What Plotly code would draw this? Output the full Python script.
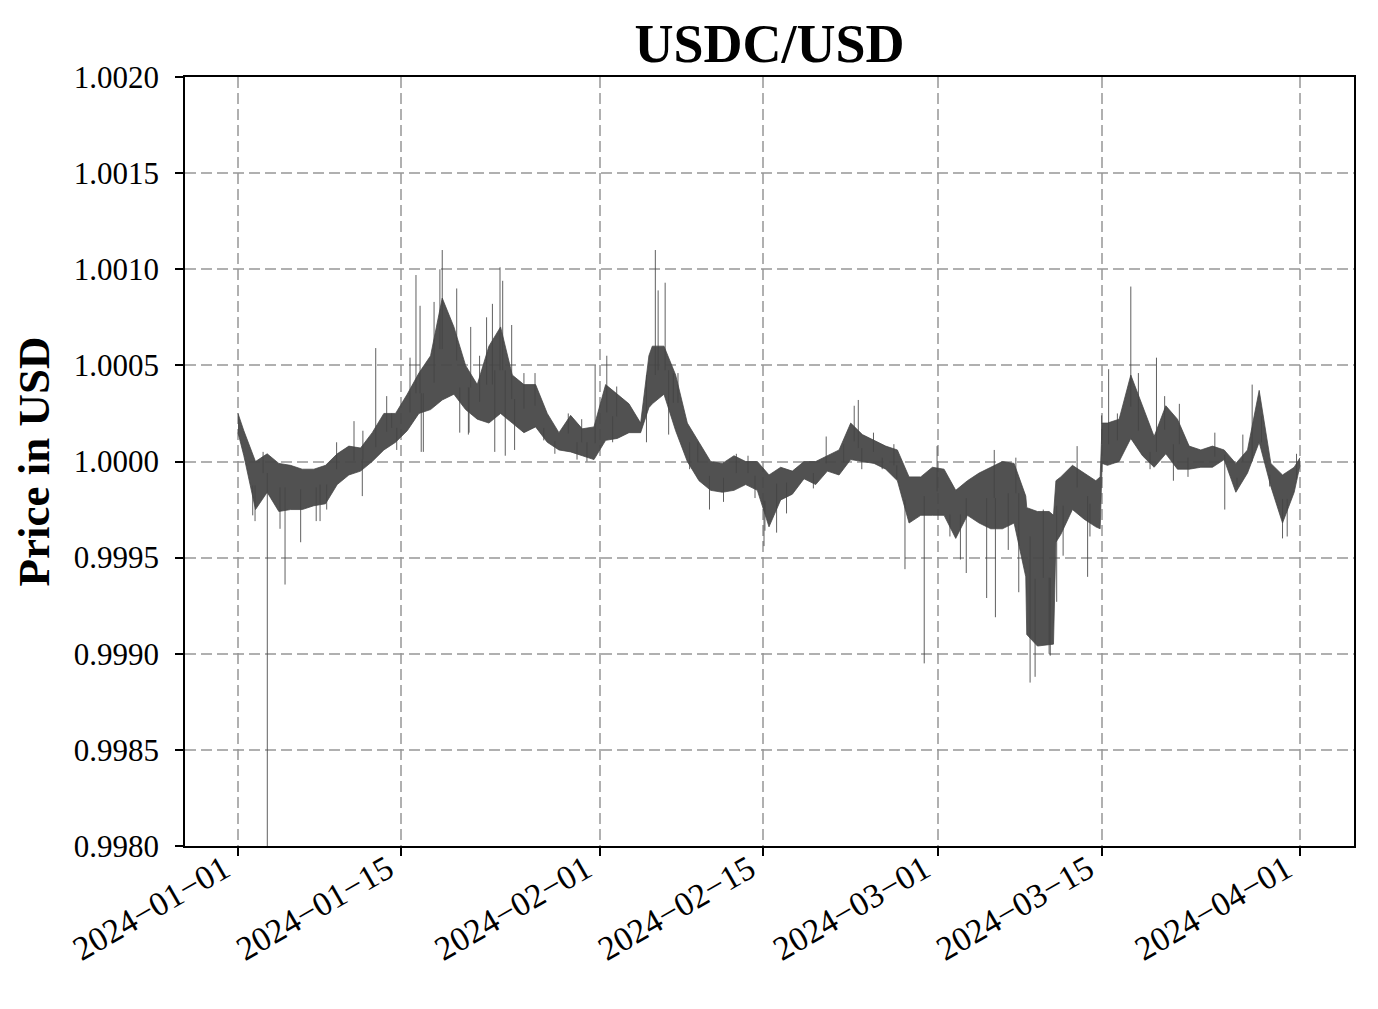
import pandas as pd
import plotly.graph_objects as go

# daily envelope of the dense price band (noon of each day), plus start/end points
band_time = (["2024-01-01 00:00"]
             + [d.strftime("%Y-%m-%d %H:%M") for d in pd.date_range("2024-01-01 12:00", periods=91, freq="D")]
             + ["2024-04-01 00:00"])

band_hi = [1.00025,
           1.00016, 1.00000, 1.00004, 0.99999, 0.99998, 0.99996, 0.99996, 0.99998, 1.00004, 1.00008,
           1.00007, 1.00015, 1.00025, 1.00025, 1.00035, 1.00046, 1.00055, 1.00085, 1.00070, 1.00050,
           1.00040, 1.00060, 1.00070, 1.00045, 1.00040, 1.00040, 1.00025, 1.00015, 1.00024, 1.00017,
           1.00018, 1.00040, 1.00035, 1.00030, 1.00020, 1.00060, 1.00060, 1.00045, 1.00020, 1.00010,
           1.00000, 0.99999, 1.00003, 1.00000, 1.00000, 0.99993, 0.99997, 0.99995, 1.00000, 1.00000,
           1.00003, 1.00006, 1.00020, 1.00014, 1.00011, 1.00008, 1.00006, 0.99992, 0.99992, 0.99997,
           0.99996, 0.99985, 0.99990, 0.99994, 0.99997, 1.00000, 0.99999, 0.99982, 0.99974, 0.99974,
           0.99992, 0.99998, 0.99994, 0.99990, 1.00020, 1.00022, 1.00045, 1.00029, 1.00013, 1.00029,
           1.00022, 1.00008, 1.00006, 1.00008, 1.00006, 0.99999, 1.00006, 1.00037, 0.99999, 0.99993,
           0.99997,
           1.00002]

band_lo = [1.00015,
           1.00003, 0.99975, 0.99984, 0.99974, 0.99975, 0.99975, 0.99977, 0.99978, 0.99988, 0.99993,
           0.99995, 1.00000, 1.00006, 1.00010, 1.00016, 1.00025, 1.00027, 1.00032, 1.00035, 1.00027,
           1.00022, 1.00020, 1.00025, 1.00020, 1.00015, 1.00018, 1.00010, 1.00006, 1.00005, 1.00003,
           1.00001, 1.00011, 1.00012, 1.00015, 1.00015, 1.00030, 1.00035, 1.00016, 1.00000, 0.99990,
           0.99985, 0.99984, 0.99985, 0.99988, 0.99985, 0.99966, 0.99980, 0.99983, 0.99991, 0.99988,
           0.99995, 0.99993, 1.00001, 1.00000, 0.99999, 0.99996, 0.99990, 0.99968, 0.99972, 0.99972,
           0.99972, 0.99960, 0.99972, 0.99968, 0.99965, 0.99965, 0.99968, 0.99940, 0.99904, 0.99905,
           0.99962, 0.99975, 0.99970, 0.99966, 0.99998, 1.00000, 1.00012, 1.00003, 0.99997, 1.00004,
           0.99996, 0.99996, 0.99997, 0.99997, 1.00001, 0.99984, 0.99994, 1.00010, 0.99987, 0.99968,
           0.99984,
           0.99998]

# extra knots where the band jumps within a day
step_time = ["2024-02-05 05:00", "2024-03-08 14:00", "2024-03-10 21:00", "2024-03-11 02:00",
             "2024-03-14 21:00", "2024-03-15 01:00"]
step_hi = [1.00055, 0.99976, 0.99972, 0.99990, 0.99992, 1.00020]
step_lo = [1.00028, 0.99910, 0.99905, 0.99958, 0.99965, 0.99999]

# individual spikes: time in days after 2024-01-01 00:00, and extreme price
spike_day = [1.26, 1.46, 2.15, 2.51, 3.6, 4.03, 5.37, 6.7, 7.03, 7.6, 8.45, 9.94, 10.65, 10.7,
             11.8, 12.74, 13.17, 13.6, 14.74, 15.25, 15.6, 15.7, 15.88,
             16.8, 17.3, 17.5, 18.74, 19.0, 19.74, 19.8, 19.94, 20.7, 21.3, 21.8, 22.0, 22.45, 22.68, 22.9,
             23.45, 23.7, 24.5, 25.45, 26.2, 27.15, 28.3, 29.05, 29.45, 29.9, 30.6, 31.6, 32.1, 32.45,
             35.0, 35.76, 36.0, 36.6, 36.9, 37.3, 37.7, 38.7, 39.4, 40.4, 41.6,
             42.7, 43.7, 44.3, 45.07, 45.15, 46.15, 47.0, 49.3, 50.4, 51.9, 52.8, 53.15, 53.45, 54.45,
             55.2, 56.2, 56.45, 57.15, 58.8, 59.9, 61.0, 61.9, 62.4, 64.15,
             64.8, 64.9, 66.0, 66.65, 66.9, 67.87, 68.3, 69.0, 69.5, 69.6, 70.15, 70.7, 71.9, 72.8, 73.0,
             74.0, 74.6, 75.35, 76.5, 77.15, 78.15, 78.7, 79.4, 80.15, 80.66, 81.4, 83.7, 84.55, 85.6,
             86.1, 86.9, 87.7, 88.4, 89.5, 89.9, 90.7]
spike_val = [0.99972, 0.99969, 1.00005, 0.99795, 0.99965, 0.99936, 0.99958, 0.99969, 0.99969, 0.99975, 1.00010, 1.00021, 0.99982, 1.00016,
             1.00059, 1.00034, 1.00025, 1.00006, 1.00054, 1.00097, 1.00081, 1.00005, 1.00005,
             1.00083, 1.00100, 1.00110, 1.00090, 1.00015, 1.00014, 1.00015, 1.00070, 1.00055, 1.00075, 1.00082, 1.00005, 1.00101, 1.00094, 1.00003,
             1.00071, 1.00006, 1.00046, 1.00046, 1.00011, 1.00004, 1.00025, 1.00001, 1.00022, 1.00000, 1.00050, 1.00055, 1.00010, 1.00039,
             1.00010, 1.00110, 1.00089, 1.00093, 1.00014, 1.00046, 1.00046, 0.99996, 1.00010, 0.99975, 0.99979,
             1.00004, 1.00003, 0.99981, 0.99956, 0.99964, 0.99963, 0.99973, 0.99986, 1.00013, 1.00009, 1.00029, 1.00032, 0.99996, 1.00015,
             0.99996, 1.00009, 0.99991, 0.99944, 0.99895, 1.00008, 0.99961, 0.99949, 0.99942, 0.99929,
             1.00006, 0.99919, 0.99954, 1.00002, 0.99932, 0.99885, 0.99888, 0.99975, 0.99900, 0.99899, 0.99927, 0.99951, 1.00008, 0.99940, 0.99961,
             1.00024, 1.00048, 1.00025, 1.00091, 1.00046, 0.99996, 1.00054, 1.00034, 0.99990, 1.00030, 0.99992, 1.00015, 0.99975, 0.99987,
             1.00014, 1.00040, 1.00010, 0.99987, 0.99960, 0.99961, 1.00004]

tick_vals = ["2024-01-01", "2024-01-15", "2024-02-01", "2024-02-15", "2024-03-01", "2024-03-15", "2024-04-01"]
tick_text = [t.replace("-", "\u2212") for t in tick_vals]

band = pd.DataFrame({"t": pd.to_datetime(band_time + step_time),
                     "hi": band_hi + step_hi, "lo": band_lo + step_lo}).sort_values("t")

start = pd.Timestamp("2024-01-01")
line_col = "rgba(68,68,68,0.95)"

fig = go.Figure()
fig.add_trace(go.Scatter(x=band["t"], y=band["hi"], mode="lines",
                         line=dict(color=line_col, width=0.8), showlegend=False))
fig.add_trace(go.Scatter(x=band["t"], y=band["lo"], mode="lines", fill="tonexty",
                         fillcolor="rgba(72,72,72,0.95)",
                         line=dict(color=line_col, width=0.8), showlegend=False))

# each spike is a thin vertical stroke from the middle of that day's band
sx, sy = [], []
for d, v in zip(spike_day, spike_val):
    i = min(int(d) + 1, len(band_hi) - 2)
    base = (band_hi[i] + band_lo[i]) / 2
    t = start + pd.to_timedelta(d, unit="D")
    sx += [t, t, None]
    sy += [base, v, None]
fig.add_trace(go.Scatter(x=sx, y=sy, mode="lines",
                         line=dict(color="rgba(68,68,68,0.85)", width=1.0), showlegend=False))

font = "Liberation Serif, DejaVu Serif, serif"
grid = dict(showgrid=True, gridcolor="rgba(150,150,150,0.75)", gridwidth=1.5, griddash="11px,5px",
            zeroline=False, showline=True, linecolor="black", linewidth=1.8, mirror=True,
            ticks="outside", ticklen=8, tickwidth=1.8, tickcolor="black")

fig.update_layout(
    width=1378, height=1009,
    margin=dict(l=185, r=24, t=77, b=163),
    paper_bgcolor="white", plot_bgcolor="white",
    font=dict(family=font, size=31, color="black"),
    title=dict(text="<b>USDC/USD</b>", x=0.5584, xanchor="center", y=1 - 43 / 1009, yanchor="middle",
               yref="container", font=dict(size=54, family=font)),
    xaxis=dict(range=["2023-12-27 11:00", "2024-04-05 15:00"], tickvals=tick_vals, ticktext=tick_text,
               tickangle=-30, tickfont=dict(size=34), ticklabelstandoff=-20, ticklabelshift=-14, **grid),
    yaxis=dict(range=[0.998, 1.002], dtick=0.0005, tickformat=".4f", ticklabelstandoff=10,
               title=dict(text="<b>Price in USD</b>", font=dict(size=45), standoff=10), **grid),
)

fig.write_html("out.html", config={"displayModeBar": False},
               post_script="document.body.style.margin='0px';")
